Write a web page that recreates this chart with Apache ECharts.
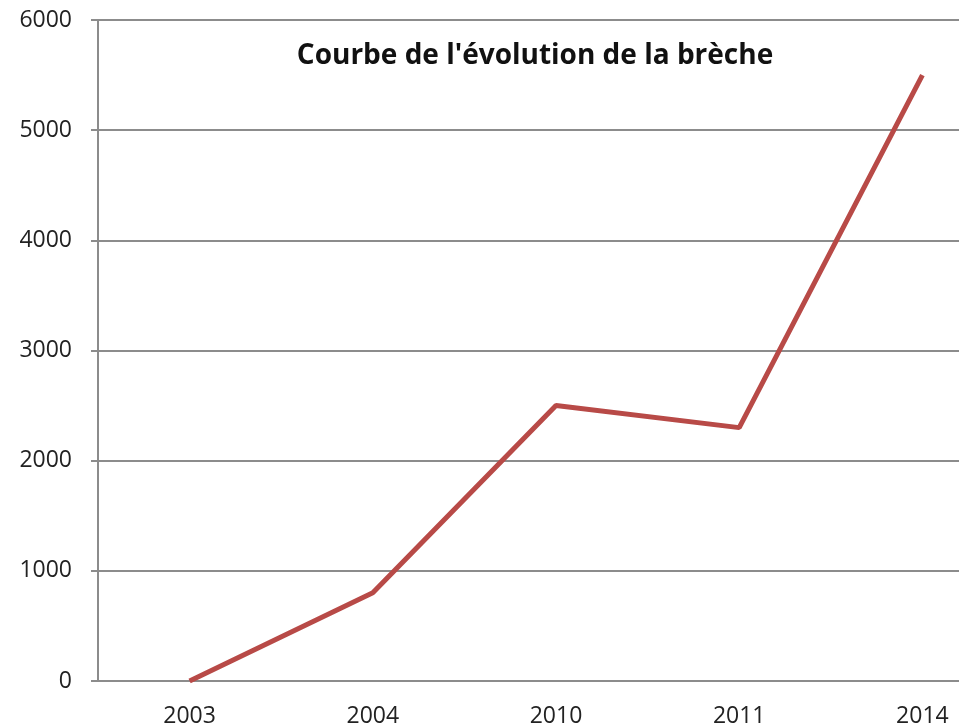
<!DOCTYPE html>
<html><head><meta charset="utf-8">
<script src="https://cdn.jsdelivr.net/npm/echarts@6/dist/echarts.min.js"></script>
<style>html,body{margin:0;padding:0;background:#fff;overflow:hidden;width:959px;height:728px}#c{width:1014px;height:728px}</style>
</head><body><div id="c"></div>
<script>
const titleText = "Courbe de l'évolution de la brèche";
const categories = ["2003", "2004", "2010", "2011", "2014"];
const values = [0, 800, 2500, 2300, 5500];
const yTicks = { min: 0, max: 6000, interval: 1000 };

const chart = echarts.init(document.getElementById('c'), null, { renderer: 'canvas' });
chart.setOption({
  backgroundColor: '#ffffff',
  animation: false,
  title: {
    text: titleText,
    left: 530, top: 37,
    textAlign: 'center',
    textStyle: { fontFamily: 'Open Sans', fontWeight: 'bold', fontSize: 28, color: '#111' }
  },
  grid: { left: 98, right: 0, top: 20, bottom: 45, containLabel: false },
  xAxis: {
    type: 'category',
    data: categories,
    boundaryGap: true,
    axisLine: { show: false },
    axisTick: { show: false },
    axisLabel: { margin: 24, fontFamily: 'Open Sans', fontSize: 23, color: '#222' },
    splitLine: { show: false }
  },
  yAxis: {
    type: 'value',
    min: yTicks.min, max: yTicks.max, interval: yTicks.interval,
    axisLine: { show: true, lineStyle: { color: '#8c8c8c', width: 2 } },
    axisTick: { show: true, length: 7, lineStyle: { color: '#8c8c8c', width: 2 } },
    axisLabel: { margin: 26, fontFamily: 'Open Sans', fontSize: 23, color: '#222', formatter: v => String(v) },
    splitLine: { show: true, lineStyle: { color: '#8c8c8c', width: 2 } }
  },
  series: [{
    type: 'line',
    data: values,
    symbol: 'none',
    lineStyle: { color: '#b84a47', width: 5 },
    z: 5
  }]
});
</script></body></html>
